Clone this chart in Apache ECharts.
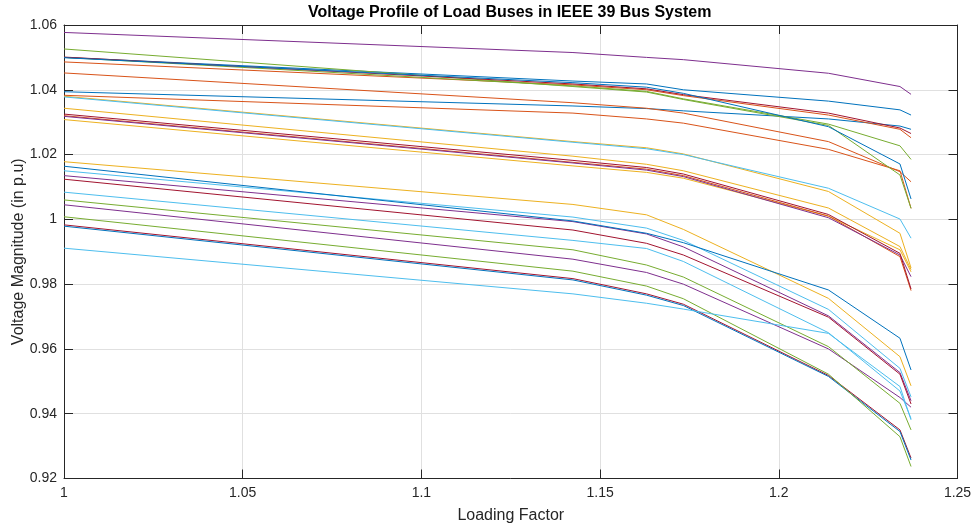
<!DOCTYPE html>
<html>
<head>
<meta charset="utf-8">
<script src="https://cdn.jsdelivr.net/npm/echarts@6/dist/echarts.min.js"></script>
<style>
  html, body { margin: 0; padding: 0; background: #ffffff; }
  #chart { width: 976px; height: 529px; }
</style>
</head>
<body>
<div id="chart"></div>
<script>
// Continuation load-flow steps (loading factor) shared by every bus trace
const loadingFactor = [1.0000, 1.1424, 1.1630, 1.1733, 1.2139, 1.2339, 1.2370];

// Voltage magnitude (p.u.) of load buses 1..29 at each loading step
const bus01 = [1.0394, 1.0350, 1.0342, 1.0335, 1.0310, 1.0288, 1.0278];
const bus02 = [1.0486, 1.0415, 1.0400, 1.0382, 1.0322, 1.0278, 1.0252];
const bus03 = [1.0308, 1.0165, 1.0145, 1.0127, 1.0010, 0.9906, 0.9838];
const bus04 = [1.0045, 0.9877, 0.9836, 0.9800, 0.9600, 0.9450, 0.9420];
const bus05 = [1.0060, 0.9906, 0.9859, 0.9822, 0.9607, 0.9432, 0.9350];
const bus06 = [1.0084, 0.9935, 0.9910, 0.9870, 0.9650, 0.9470, 0.9385];
const bus07 = [0.9983, 0.9817, 0.9770, 0.9738, 0.9518, 0.9350, 0.9263];
const bus08 = [0.9979, 0.9813, 0.9766, 0.9734, 0.9515, 0.9345, 0.9257];
const bus09 = [1.0383, 1.0328, 1.0310, 1.0297, 1.0216, 1.0150, 1.0034];
const bus10 = [1.0178, 1.0046, 1.0014, 0.9969, 0.9756, 0.9576, 0.9486];
const bus11 = [1.0135, 0.9993, 0.9955, 0.9915, 0.9702, 0.9527, 0.9440];
const bus12 = [1.0008, 0.9840, 0.9794, 0.9755, 0.9522, 0.9329, 0.9237];
const bus13 = [1.0150, 1.0007, 0.9973, 0.9935, 0.9722, 0.9540, 0.9452];
const bus14 = [1.0124, 0.9967, 0.9926, 0.9890, 0.9698, 0.9522, 0.9430];
const bus15 = [1.0164, 0.9995, 0.9957, 0.9928, 0.9782, 0.9633, 0.9535];
const bus16 = [1.0320, 1.0176, 1.0155, 1.0135, 1.0010, 0.9885, 0.9780];
const bus17 = [1.0343, 1.0195, 1.0170, 1.0150, 1.0035, 0.9916, 0.9845];
const bus18 = [1.0318, 1.0174, 1.0152, 1.0132, 1.0005, 0.9890, 0.9823];
const bus19 = [1.0500, 1.0412, 1.0395, 1.0372, 1.0294, 1.0227, 1.0185];
const bus20 = [0.9911, 0.9770, 0.9741, 0.9723, 0.9648, 0.9484, 0.9381];
const bus21 = [1.0325, 1.0182, 1.0160, 1.0140, 1.0015, 0.9895, 0.9785];
const bus22 = [1.0500, 1.0427, 1.0418, 1.0400, 1.0365, 1.0338, 1.0322];
const bus23 = [1.0452, 1.0360, 1.0343, 1.0328, 1.0240, 1.0147, 1.0116];
const bus24 = [1.0380, 1.0240, 1.0221, 1.0202, 1.0086, 0.9957, 0.9850];
const bus25 = [1.0577, 1.0515, 1.0500, 1.0493, 1.0451, 1.0410, 1.0386];
const bus26 = [1.0526, 1.0410, 1.0393, 1.0370, 1.0290, 1.0137, 1.0034];
const bus27 = [1.0378, 1.0238, 1.0218, 1.0200, 1.0096, 1.0001, 0.9942];
const bus28 = [1.0501, 1.0418, 1.0403, 1.0385, 1.0328, 1.0282, 1.0265];
const bus29 = [1.0499, 1.0422, 1.0408, 1.0389, 1.0286, 1.0171, 1.0063];

const busVoltages = [
  bus01, bus02, bus03, bus04, bus05, bus06, bus07, bus08, bus09, bus10,
  bus11, bus12, bus13, bus14, bus15, bus16, bus17, bus18, bus19, bus20,
  bus21, bus22, bus23, bus24, bus25, bus26, bus27, bus28, bus29
];

// Default MATLAB line colour order, cycled over the buses
const lineColors = ['#0072BD', '#D95319', '#EDB120', '#7E2F8E', '#77AC30', '#4DBEEE', '#A2142F'];

const FONT = '"Liberation Sans", Arial, Helvetica, sans-serif';
const AXIS_COLOR = '#262626';
const GRID_COLOR = '#e0e0e0';

const tickText = v => String(+Number(v).toFixed(2));

const series = busVoltages.map((volts, i) => ({
  name: 'Bus ' + (i + 1),
  type: 'line',
  xAxisIndex: 0,
  yAxisIndex: 0,
  data: loadingFactor.map((lf, k) => [lf, volts[k]]),
  showSymbol: false,
  symbol: 'none',
  smooth: false,
  silent: true,
  lineStyle: { width: 1, color: lineColors[i % lineColors.length] },
  itemStyle: { color: lineColors[i % lineColors.length] }
}));

const xRange = { min: 1, max: 1.25, interval: 0.05 };
const yRange = { min: 0.92, max: 1.06, interval: 0.02 };

const chart = echarts.init(document.getElementById('chart'), null, { renderer: 'canvas' });
chart.setOption({
  animation: false,
  backgroundColor: '#ffffff',
  title: {
    text: 'Voltage Profile of Load Buses in IEEE 39 Bus System',
    left: 303,
    top: 0,
    textStyle: { fontFamily: FONT, fontSize: 16, fontWeight: 'bold', color: '#000000' }
  },
  grid: { left: 64, top: 25, right: 18.5, bottom: 50.5, containLabel: false, outerBoundsMode: 'none' },
  xAxis: [
    {
      type: 'value', position: 'bottom', ...xRange,
      name: 'Loading Factor', nameLocation: 'middle', nameGap: 29, nameMoveOverlap: false,
      nameTextStyle: { fontFamily: FONT, fontSize: 16, color: AXIS_COLOR },
      axisLine: { show: true, onZero: false, lineStyle: { color: AXIS_COLOR, width: 1 } },
      axisTick: { show: true, inside: true, length: 9, lineStyle: { color: AXIS_COLOR } },
      axisLabel: { show: true, margin: 8, formatter: tickText, fontFamily: FONT, fontSize: 14, color: AXIS_COLOR },
      splitLine: { show: true, lineStyle: { color: GRID_COLOR, width: 1 } }
    },
    {
      type: 'value', position: 'top', ...xRange,
      axisLine: { show: true, onZero: false, lineStyle: { color: AXIS_COLOR, width: 1 } },
      axisTick: { show: true, inside: true, length: 9, lineStyle: { color: AXIS_COLOR } },
      axisLabel: { show: false },
      splitLine: { show: false }
    }
  ],
  yAxis: [
    {
      type: 'value', position: 'left', ...yRange,
      name: 'Voltage Magnitude (in p.u)', nameLocation: 'middle', nameGap: 37, nameMoveOverlap: false,
      nameTextStyle: { fontFamily: FONT, fontSize: 16, color: AXIS_COLOR },
      axisLine: { show: true, onZero: false, lineStyle: { color: AXIS_COLOR, width: 1 } },
      axisTick: { show: true, inside: true, length: 9, lineStyle: { color: AXIS_COLOR } },
      axisLabel: { show: true, margin: 7, formatter: tickText, fontFamily: FONT, fontSize: 14, color: AXIS_COLOR },
      splitLine: { show: true, lineStyle: { color: GRID_COLOR, width: 1 } }
    },
    {
      type: 'value', position: 'right', ...yRange,
      axisLine: { show: true, onZero: false, lineStyle: { color: AXIS_COLOR, width: 1 } },
      axisTick: { show: true, inside: true, length: 9, lineStyle: { color: AXIS_COLOR } },
      axisLabel: { show: false },
      splitLine: { show: false }
    }
  ],
  series: series
});
</script>
</body>
</html>
